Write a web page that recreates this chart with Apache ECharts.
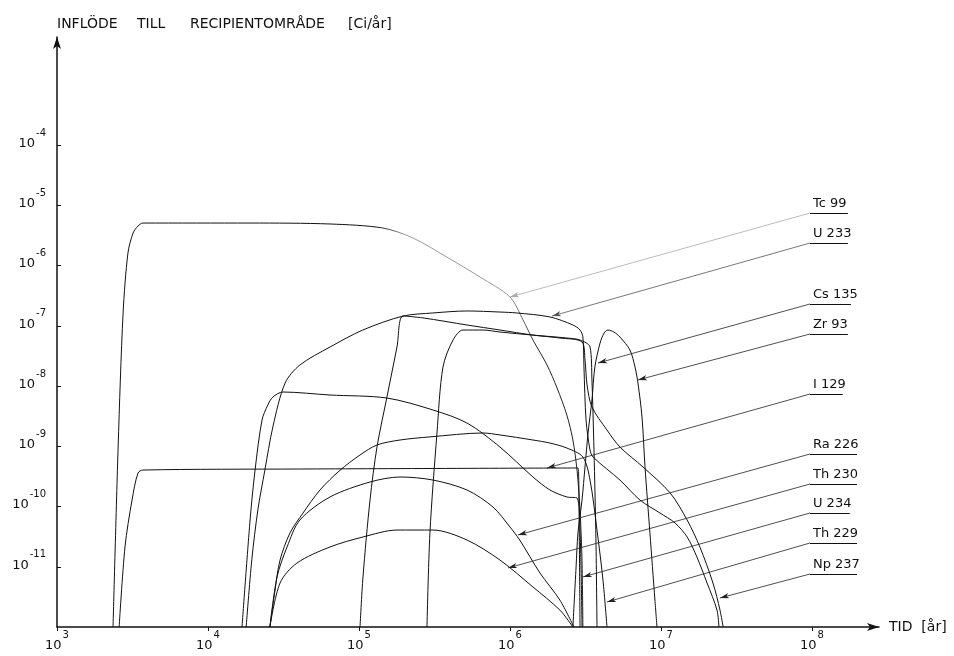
<!DOCTYPE html>
<html>
<head>
<meta charset="utf-8">
<script src="https://cdn.jsdelivr.net/npm/echarts@6/dist/echarts.min.js"></script>
<style>html,body{margin:0;padding:0;background:#fff}#c{width:954px;height:656px}</style>
</head>
<body>
<div id="c"></div>
<script>
// ---- data: [years, Ci/år] ----
var tc99 = [[2350,1e-12],[2540,9.7e-10],[2740,1.63e-7],[2950,1.61e-6],[3190,3.46e-6],[3440,4.53e-6],[3710,5.07e-6],[19000,5.07e-6],[64300,4.89e-6],[144000,4.19e-6],[228000,2.86e-6],[382000,1.38e-6],[633000,6.44e-7],[1.0e6,3.0e-7],[1.22e6,1.25e-7],[1.42e6,5.8e-8],[1.76e6,2.23e-8],[2.05e6,9.27e-9],[2.38e6,3.3e-9],[2.61e6,1.27e-9],[2.78e6,4.0e-10],[2.91e6,8.75e-11],[3.0e6,1.29e-11],[3.04e6,1e-12]];
var i129 = [[2580,1e-12],[2820,2.13e-11],[3140,1.28e-10],[3440,3.6e-10],[3710,4.03e-10],[40600,4.19e-10],[2.82e6,4.36e-10],[2.87e6,6e-11],[2.91e6,1e-12]];
var u233 = [[17900,1e-12],[19500,1.3e-11],[21400,8.8e-11],[23800,4.0e-10],[26900,2.1e-9],[32400,1.12e-8],[40600,2.23e-8],[64300,4.44e-8],[106000,8.5e-8],[196000,1.45e-7],[309000,1.63e-7],[519000,1.76e-7],[859000,1.69e-7],[1.11e6,1.63e-7],[1.84e6,1.40e-7],[2.61e6,1.03e-7],[2.91e6,8.5e-8],[3.04e6,6.5e-8],[3.09e6,2.07e-8],[3.19e6,2.73e-9],[3.39e6,8.67e-10],[3.55e6,6.63e-10],[5.35e6,2.75e-10],[7.26e6,1.28e-10],[9.85e6,7.8e-11],[1.24e7,5.32e-11],[1.49e7,3.12e-11],[1.73e7,1.45e-11],[2.02e7,5.37e-12],[2.35e7,1.91e-12],[2.42e7,1e-12]];
var cs135 = [[282000,1e-12],[295000,3.63e-11],[328500,1.66e-9],[360000,2.07e-8],[419500,5.8e-8],[488500,8.5e-8],[663000,8.5e-8],[859000,7.87e-8],[1.42e6,7.0e-8],[2.38e6,6.26e-8],[2.91e6,5.8e-8],[3.39e6,4.44e-8],[3.49e6,1.26e-8],[3.6e6,8.7e-10],[3.71e6,2.78e-11],[3.77e6,1e-12]];
var np237 = [[101600,1e-12],[106300,6.76e-12],[118300,1.28e-10],[131600,9.7e-10],[153200,6.57e-9],[178500,4.44e-8],[195600,1.45e-7],[265500,1.35e-7],[519000,1.03e-7],[859000,8.5e-8],[1.42e6,7.0e-8],[2.14e6,6.26e-8],[3.0e6,5.37e-8],[3.14e6,2.7e-8],[3.24e6,1.04e-8],[3.49e6,4.48e-9],[4.39e6,1.86e-9],[5.35e6,9.7e-10],[7.6e6,4.53e-10],[1.15e7,1.68e-10],[1.49e7,5.97e-11],[1.81e7,2.13e-11],[2.21e7,5.37e-12],[2.46e7,1.91e-12],[2.58e7,1e-12]];
var zr93 = [[2.61e6,1e-12],[2.74e6,9.9e-12],[2.82e6,3.63e-11],[3.0e6,1.28e-10],[3.14e6,4.53e-10],[3.29e6,1.66e-9],[3.49e6,5.86e-9],[3.65e6,2.07e-8],[3.95e6,5.17e-8],[4.2e6,7.58e-8],[4.45e6,8.5e-8],[4.88e6,7.87e-8],[5.35e6,6.5e-8],[6.23e6,3.96e-8],[6.73e6,2.07e-8],[7.04e6,1.12e-8],[7.49e6,3.06e-9],[7.84e6,4.53e-10],[8.45e6,3.63e-11],[9.12e6,2.8e-12],[9.41e6,1e-12]];
var u234 = [[16800,1e-12],[19000,5.97e-11],[20500,4.03e-10],[22800,2.73e-9],[24900,4.84e-9],[26900,6.57e-9],[31400,7.95e-9],[64300,7.09e-9],[153000,6.32e-9],[309000,4.0e-9],[519000,2.43e-9],[859000,9.7e-10],[1.42e6,3.09e-10],[1.84e6,1.88e-10],[2.38e6,1.44e-10],[2.78e6,1.38e-10],[2.91e6,4.07e-11],[3.0e6,1e-12]];
var th229 = [[25700,1e-12],[27800,4.1e-12],[30000,1.29e-11],[34900,3.63e-11],[42600,7.8e-11],[55200,1.88e-10],[74900,4.0e-10],[101600,7.16e-10],[131600,1.05e-9],[187000,1.27e-9],[295000,1.43e-9],[663000,1.66e-9],[859000,1.54e-9],[1.42e6,1.27e-9],[1.84e6,1.13e-9],[2.38e6,9.35e-10],[3.04e6,6.63e-10],[3.39e6,2.75e-10],[3.77e6,4.07e-11],[4.13e6,6.0e-12],[4.39e6,1e-12]];
var ra226 = [[25700,1e-12],[28650,6.76e-12],[33400,2.13e-11],[40600,5.97e-11],[64300,1.44e-10],[118300,2.55e-10],[187000,3.09e-10],[309000,2.75e-10],[519000,1.88e-10],[772000,9.8e-11],[1.0e6,4.57e-11],[1.16e6,2.78e-11],[1.58e6,7.87e-12],[2.14e6,2.8e-12],[2.65e6,1e-12]];
var th230 = [[25700,1e-12],[30000,5.37e-12],[38800,1.15e-11],[64300,2.13e-11],[106300,3.12e-11],[178500,4.07e-11],[309000,4.07e-11],[519000,2.78e-11],[859000,1.29e-11],[1.42e6,4.61e-12],[2.14e6,1.91e-12],[2.61e6,1e-12]];

// ---- labels and leader arrows ----
var labelNames = ['Tc 99','U 233','Cs 135','Zr 93','I 129','Ra 226','Th 230','U 234','Th 229','Np 237'];
var labelY     = [7.43e-6,2.36e-6,2.30e-7,7.3e-8,7.36e-9,7.43e-10,2.36e-10,7.8e-11,2.48e-11,7.58e-12];
var labelX0    = [9.7e7,9.7e7,9.7e7,9.7e7,9.7e7,9.7e7,9.7e7,9.7e7,9.7e7,9.7e7];
var labelX1    = [1.73e8,1.73e8,1.81e8,1.73e8,1.6e8,1.99e8,1.99e8,1.78e8,1.99e8,1.99e8];
var tipX       = [1.0e6,1.9e6,3.83e6,7.04e6,1.76e6,1.13e6,9.7e5,3.04e6,4.39e6,2.46e7];
var tipY       = [3.0e-7,1.45e-7,2.41e-8,1.26e-8,4.36e-10,3.37e-11,9.55e-12,6.76e-12,2.6e-12,3.03e-12];
var leaderColor = ['#aaa','#555','#222','#222','#222','#222','#222','#222','#222','#222'];

var xTicks = [1e3,1e4,1e5,1e6,1e7,1e8];
var yTicks = [1e-4,1e-5,1e-6,1e-7,1e-8,1e-9,1e-10,1e-11];

var curves = [tc99,i129,u233,cs135,np237,zr93,u234,th229,ra226,th230];

var FONT = 'DejaVu Sans';
function powLabel(v){
  var e = Math.round(Math.log10(v));
  return '{b|10}{s|' + (e<0?'-':'') + Math.abs(e) + '}';
}
var rich = {
  b:{fontFamily:FONT,fontSize:13,color:'#111',lineHeight:22,verticalAlign:'bottom'},
  s:{fontFamily:FONT,fontSize:10,color:'#111',lineHeight:22,verticalAlign:'top',padding:[0,0,0,1]}
};

// the scanned Tc 99 curve fades over its falling part
var tcColor = {type:'linear',x:0,y:0,x2:1,y2:0,colorStops:[
  {offset:0,color:'#111'},{offset:0.56,color:'#111'},{offset:0.62,color:'#999'},
  {offset:0.84,color:'#999'},{offset:0.9,color:'#222'},{offset:1,color:'#222'}]};

var series = curves.map(function(d,k){
  return {type:'line',data:d,showSymbol:false,symbol:'none',smooth:0.3,
    lineStyle:{color:k===0?tcColor:'#111',width:1},silent:true,z:3};
});

var mlData = [];
for (var i=0;i<labelNames.length;i++){
  mlData.push([{coord:[labelX0[i],labelY[i]],symbol:'none',name:labelNames[i],
      lineStyle:{color:'#111',width:1},
      label:{show:true,position:'insideStartTop',formatter:labelNames[i],distance:3,
        fontFamily:FONT,fontSize:13,color:'#111'}},
    {coord:[labelX1[i],labelY[i]],symbol:'none'}]);
  mlData.push([{coord:[labelX0[i],labelY[i]],symbol:'none',label:{show:false},
      lineStyle:{color:leaderColor[i],width:0.8},itemStyle:{color:leaderColor[i]}},
    {coord:[tipX[i],tipY[i]],symbol:'arrow',symbolSize:[4,9]}]);
}
series.push({type:'line',data:[],silent:true,z:4,
  markLine:{silent:true,animation:false,symbol:['none','arrow'],
    lineStyle:{color:'#222',width:0.8,type:'solid'},itemStyle:{color:'#222'},label:{show:false},data:mlData}});

var tFont = {fontFamily:FONT,fontSize:14,color:'#111',align:'left'};
var chart = echarts.init(document.getElementById('c'),null,{renderer:'canvas'});
chart.setOption({
  animation:false,
  backgroundColor:'#fff',
  title:{text:'{a|INFLÖDE}{b|TILL}{c|RECIPIENTOMRÅDE}{d|[Ci/år]}',left:52,top:12,
    textStyle:{fontFamily:FONT,fontSize:14,fontWeight:'normal',color:'#111',
      rich:{a:Object.assign({width:80},tFont),b:Object.assign({width:53},tFont),
            c:Object.assign({width:158},tFont),d:tFont}}},
  grid:{left:57,right:75,top:37,bottom:29,containLabel:false},
  xAxis:{type:'log',logBase:10,min:1e3,max:Math.pow(10,8.444),
    name:'TID  [år]',nameLocation:'end',nameGap:10,
    nameTextStyle:{fontFamily:FONT,fontSize:14,color:'#111',verticalAlign:'middle',padding:[0,0,10,0]},
    axisLine:{show:true,lineStyle:{color:'#111',width:1.5},symbol:['none','arrow'],symbolSize:[6,12]},
    axisTick:{show:true,length:4,inside:false,customValues:xTicks,lineStyle:{color:'#111'}},
    axisLabel:{show:true,customValues:xTicks,formatter:powLabel,rich:rich,margin:3},
    splitLine:{show:false}},
  yAxis:{type:'log',logBase:10,min:1e-12,max:Math.pow(10,-2.207),
    axisLine:{show:true,lineStyle:{color:'#111',width:1.5},symbol:['none','arrow'],symbolSize:[6,12]},
    axisTick:{show:true,length:4,inside:true,customValues:yTicks,lineStyle:{color:'#111'}},
    axisLabel:{show:true,customValues:yTicks,formatter:powLabel,rich:rich,margin:11,padding:[0,0,12,0]},
    splitLine:{show:false}},
  series:series
});
</script>
</body>
</html>
